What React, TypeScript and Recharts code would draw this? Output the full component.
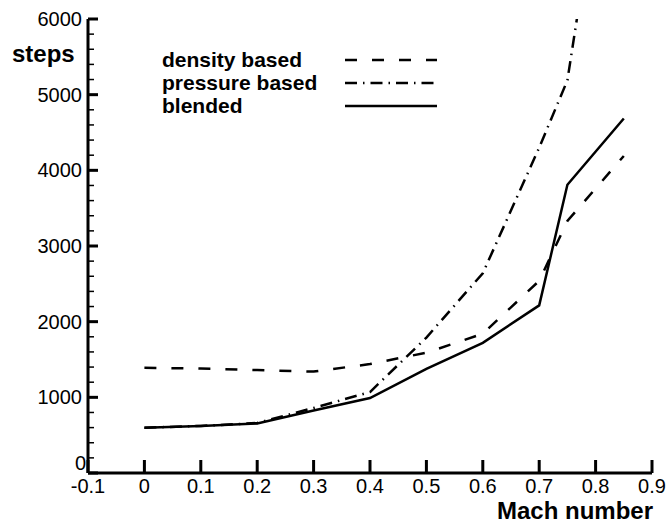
import { LineChart, Line, XAxis, YAxis } from 'recharts';

// Mach number sample points
const machMain = [0, 0.1, 0.2, 0.3, 0.4, 0.5, 0.6, 0.7, 0.75, 0.85];
const machPressure = [0, 0.1, 0.2, 0.3, 0.4, 0.5, 0.6, 0.7, 0.75, 0.8];

// steps to convergence
const densitySteps = [1390, 1380, 1360, 1340, 1440, 1590, 1840, 2540, 3330, 4190];
const pressureSteps = [598, 622, 660, 860, 1070, 1790, 2640, 4300, 5190, 7600];
const blendedSteps = [598, 620, 655, 825, 990, 1375, 1720, 2215, 3810, 4685];

const xTicks = [-0.1, 0, 0.1, 0.2, 0.3, 0.4, 0.5, 0.6, 0.7, 0.8, 0.9];
const yTicks = Array.from({ length: 31 }, (_, i) => i * 200);

const toRows = (xs: number[], ys: number[]) => xs.map((mach, i) => ({ mach, steps: ys[i] }));

const density = toRows(machMain, densitySteps);
const pressure = toRows(machPressure, pressureSteps);
const blended = toRows(machMain, blendedSteps);

const FONT = '"Liberation Sans", Arial, Helvetica, sans-serif';

const series = [
  { name: 'density based', data: density, dash: '12 15' },
  { name: 'pressure based', data: pressure, dash: '12 6 1.5 6' },
  { name: 'blended', data: blended, dash: undefined },
];

const YTick = ({ x, y, payload }: any) => {
  const v = payload.value;
  const major = v % 1000 === 0;
  return (
    <g>
      <line x1={x} x2={x + (major ? 10 : 6)} y1={y} y2={y} stroke="#000" strokeWidth={major ? 3 : 1.5} />
      {major && (
        <text
          x={v === 0 ? x - 2 : x - 6}
          y={v === 0 ? y - 10 : y}
          textAnchor="end"
          dominantBaseline="central"
          fontFamily={FONT}
          fontSize={20}
          fill="#000"
        >
          {v}
        </text>
      )}
    </g>
  );
};

const XTick = ({ x, y, payload }: any) => {
  const v = payload.value;
  const label = v === 0 ? '0' : v.toFixed(1);
  return (
    <g>
      <line x1={x} x2={x} y1={y} y2={y - 13} stroke="#000" strokeWidth={3} />
      <text x={x} y={y + 20} textAnchor="middle" fontFamily={FONT} fontSize={20} fill="#000">
        {label}
      </text>
    </g>
  );
};

export default function App() {
  return (
    <div style={{ position: 'absolute', left: 0, top: 0, width: 669, height: 524, background: '#fff' }}>
      <LineChart width={669} height={524} margin={{ top: 19, right: 17, bottom: 0, left: 0 }}>
        <XAxis
          dataKey="mach"
          type="number"
          domain={[-0.1, 0.9]}
          ticks={xTicks}
          interval={0}
          height={51}
          tickSize={0}
          tickMargin={0}
          tickLine={false}
          axisLine={{ stroke: '#000', strokeWidth: 3 }}
          tick={<XTick />}
          allowDuplicatedCategory={false}
        />
        <YAxis
          type="number"
          domain={[0, 6000]}
          ticks={yTicks}
          interval={0}
          width={88}
          tickSize={0}
          tickMargin={0}
          tickLine={false}
          allowDataOverflow
          axisLine={{ stroke: '#000', strokeWidth: 3 }}
          tick={<YTick />}
        />
        {series.map((s) => (
          <Line
            key={s.name}
            data={s.data}
            dataKey="steps"
            name={s.name}
            type="linear"
            stroke="#000"
            strokeWidth={2.5}
            strokeDasharray={s.dash}
            dot={false}
            activeDot={false}
            isAnimationActive={false}
          />
        ))}
      </LineChart>

      {/* axis titles and legend, drawn over the chart */}
      <svg
        width={669}
        height={524}
        style={{ position: 'absolute', left: 0, top: 0, pointerEvents: 'none' }}
        fontFamily={FONT}
        fontWeight="bold"
      >
        <text x={12} y={62} fontSize={24}>steps</text>
        <text x={653} y={519} fontSize={24} textAnchor="end">Mach number</text>
        {series.map((s, i) => (
          <g key={s.name}>
            <text x={162} y={67 + i * 23} fontSize={21}>{s.name}</text>
            <line x1={345} x2={437} y1={60 + i * 23} y2={60 + i * 23} stroke="#000" strokeWidth={2.5} strokeDasharray={s.dash} />
          </g>
        ))}
      </svg>
    </div>
  );
}
